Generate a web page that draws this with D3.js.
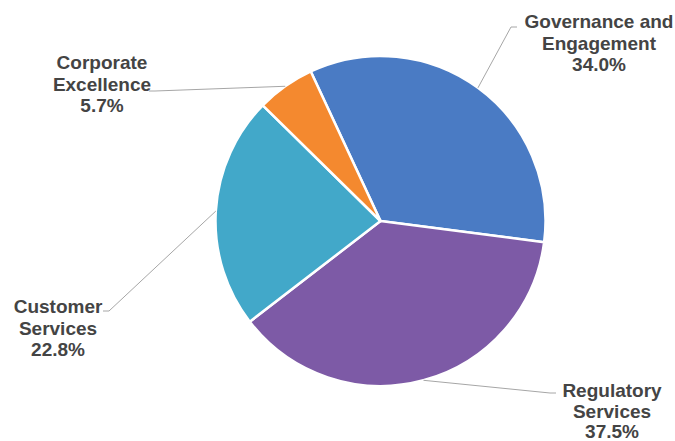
<!DOCTYPE html>
<html>
<head>
<meta charset="utf-8">
<script src="https://cdn.jsdelivr.net/npm/d3@7"></script>
<style>
  html, body { margin: 0; padding: 0; background: #fff; }
  svg { display: block; }
</style>
</head>
<body>
<svg id="chart" width="675" height="441"></svg>
<script>
// Budget share by area, clockwise from the Governance slice
const categories = ["Governance and Engagement", "Regulatory Services", "Customer Services", "Corporate Excellence"];
const values = [34.0, 37.5, 22.8, 5.7];
const colors = ["#4A7BC4", "#7D5AA6", "#42A8C9", "#F4892F"];
// Label text lines per slice
const labelLines = [
  ["Governance and", "Engagement", "34.0%"],
  ["Regulatory", "Services", "37.5%"],
  ["Customer", "Services", "22.8%"],
  ["Corporate", "Excellence", "5.7%"]
];
// Label anchor (centre / baseline of first line), line step and leader elbow
const labelPos = [
  {x: 599, y: 28, step: 21.7, elbow: [511, 27], side: "left"},
  {x: 612, y: 397, step: 20.5, elbow: [550, 393], side: "left"},
  {x: 58, y: 313, step: 21.7, elbow: [109, 311], side: "right"},
  {x: 102, y: 69, step: 21.7, elbow: [155, 91], side: "right"}
];

const svg = d3.select("#chart");
const cx = 380.5, cy = 221, r = 165;
const startAngle = -25 * Math.PI / 180;

const pie = d3.pie().sort(null).value(d => d)
  .startAngle(startAngle).endAngle(startAngle + 2 * Math.PI);
const arcs = pie(values);
const arc = d3.arc().innerRadius(0).outerRadius(r);

const g = svg.append("g").attr("transform", `translate(${cx},${cy})`);
g.selectAll("path.slice").data(arcs).enter().append("path")
  .attr("class", "slice")
  .attr("d", arc)
  .attr("fill", (d, i) => colors[i])
  .attr("stroke", "#fff")
  .attr("stroke-width", 2.5)
  .attr("stroke-linejoin", "round");

// Leader lines from slice edge to label
arcs.forEach((a, i) => {
  const mid = (a.startAngle + a.endAngle) / 2;
  const px = cx + r * Math.sin(mid);
  const py = cy - r * Math.cos(mid);
  const lp = labelPos[i];
  const e = lp.elbow;
  const tickEnd = lp.side === "left" ? e[0] + 6 : e[0] - 6;
  svg.append("path")
    .attr("d", `M${px},${py}L${e[0]},${e[1]}L${tickEnd},${e[1]}`)
    .attr("fill", "none")
    .attr("stroke", "#a6a6a6")
    .attr("stroke-width", 1);
});

// Labels
labelLines.forEach((lines, i) => {
  const lp = labelPos[i];
  const t = svg.append("text")
    .attr("text-anchor", "middle")
    .attr("font-family", "'Liberation Sans', Arial, sans-serif")
    .attr("font-weight", "bold")
    .attr("font-size", 19)
    .attr("fill", "#444");
  lines.forEach((s, j) => {
    t.append("tspan").attr("x", lp.x).attr("y", lp.y + j * lp.step).text(s);
  });
});
</script>
</body>
</html>
